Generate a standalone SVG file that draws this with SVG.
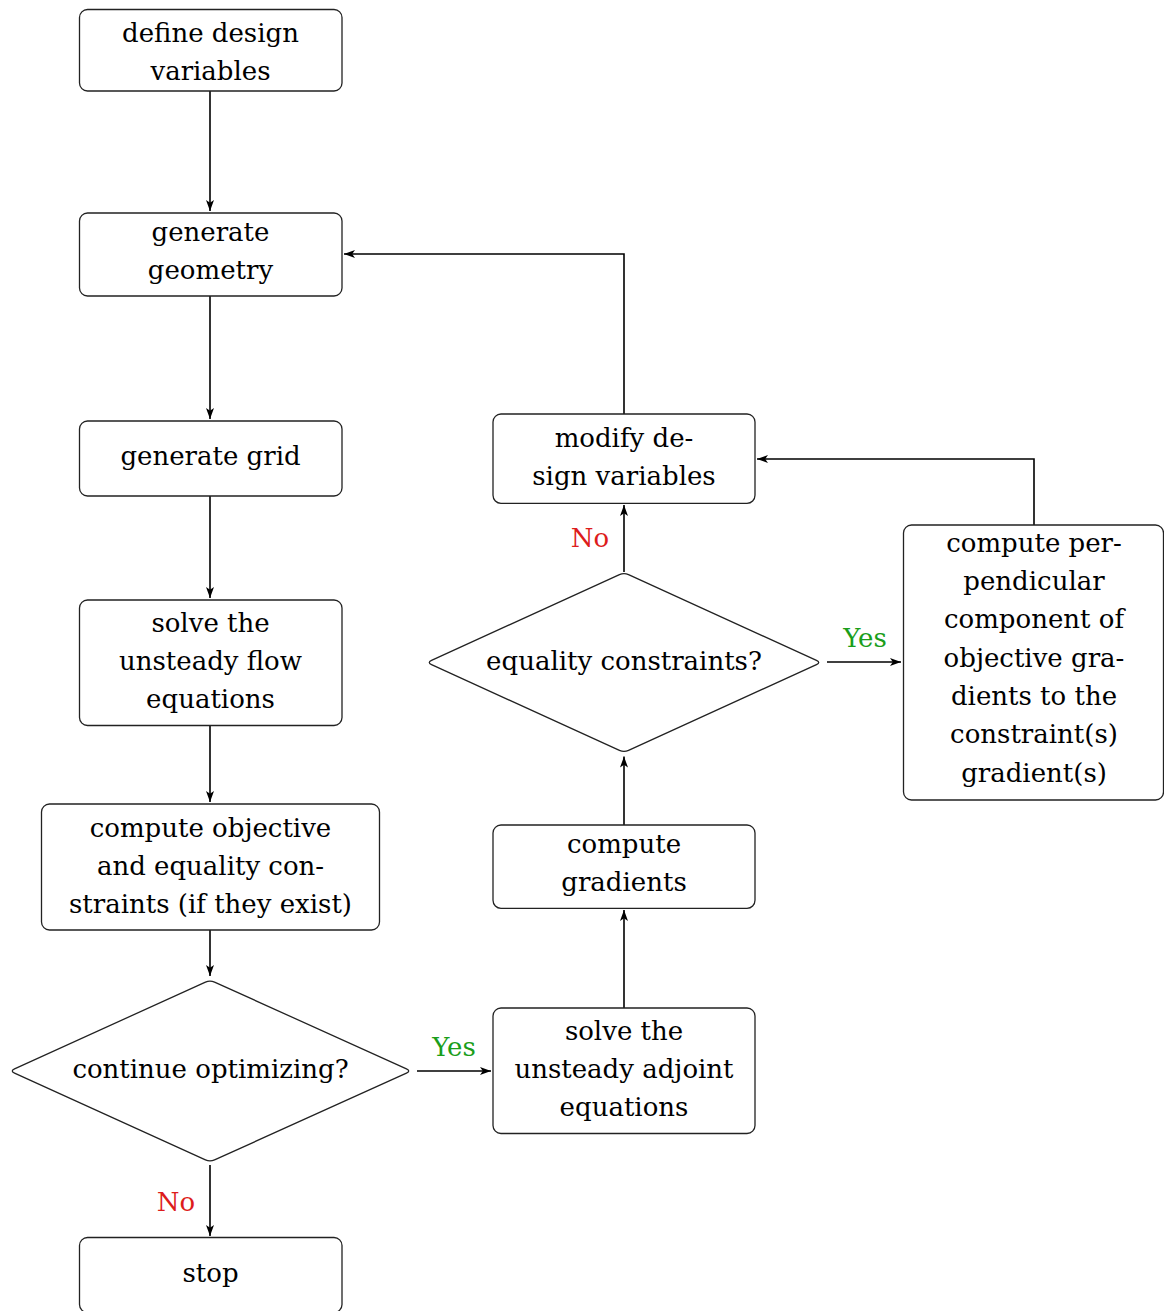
<svg xmlns="http://www.w3.org/2000/svg" width="1164" height="1311" viewBox="0 0 1164 1311">
<style>
.box{fill:#fff;stroke:#222;stroke-width:1.3}
.t{font-family:"DejaVu Serif","Liberation Serif",serif;font-size:26px;fill:#000;text-anchor:middle}
.yes{fill:#1a9e1a}
.no{fill:#dd1c1c}
.c{fill:none;stroke:#000;stroke-width:1.6;marker-end:url(#ah)}
</style>
<defs>
<marker id="ah" markerUnits="userSpaceOnUse" markerWidth="11" markerHeight="8" viewBox="0 0 11 8" refX="11" refY="4" orient="auto">
<path d="M0,0 L11,4 L0,8 L2.8,4 Z" fill="#000"/>
</marker>
</defs>
<rect width="1164" height="1311" fill="#fff"/>
<g id="connectors">
<path class="c" d="M210 91 V211"/>
<path class="c" d="M210 296 V419"/>
<path class="c" d="M210 496 V598"/>
<path class="c" d="M210 726 V802"/>
<path class="c" d="M210 930 V976"/>
<path class="c" d="M210 1165 V1236"/>
<path class="c" d="M417 1071 H491"/>
<path class="c" d="M624 1008 V910"/>
<path class="c" d="M624 825 V756.5"/>
<path class="c" d="M624 572 V505"/>
<path class="c" d="M827 662 H901"/>
<path class="c" d="M1034 525 V459 H757"/>
<path class="c" d="M624 414 V254 H344"/>
<text class="t yes" x="454" y="1056">Yes</text>
<text class="t no" x="176" y="1210.7">No</text>
<text class="t no" x="590" y="546.7">No</text>
<text class="t yes" x="865" y="646.7">Yes</text>
</g>
<g id="n1">
<rect class="box" x="79.5" y="9.5" width="262.5" height="81.5" rx="8"/>
<text class="t" x="210.5" y="41.7">define design</text>
<text class="t" x="210.5" y="80">variables</text>
</g>
<g id="n2">
<rect class="box" x="79.5" y="213" width="262.5" height="83" rx="8"/>
<text class="t" x="210.5" y="240.7">generate</text>
<text class="t" x="210.5" y="278.5">geometry</text>
</g>
<g id="n3">
<rect class="box" x="79.5" y="421" width="262.5" height="75" rx="8"/>
<text class="t" x="210.5" y="465">generate grid</text>
</g>
<g id="n4">
<rect class="box" x="79.5" y="600" width="262.5" height="125.5" rx="8"/>
<text class="t" x="210.5" y="631.7">solve the</text>
<text class="t" x="210.5" y="670">unsteady flow</text>
<text class="t" x="210.5" y="707.7">equations</text>
</g>
<g id="n5">
<rect class="box" x="41.5" y="804" width="338" height="126" rx="8"/>
<text class="t" x="210.5" y="836.7">compute objective</text>
<text class="t" x="210.5" y="875">and equality con-</text>
<text class="t" x="210.5" y="913.3">straints (if they exist)</text>
</g>
<g id="d1">
<path class="box" d="M14.55 1068.93 L205.45 982.07 Q210 980 214.55 982.07 L406.45 1068.93 Q411 1071 406.45 1073.07 L214.55 1159.93 Q210 1162 205.45 1159.93 L14.55 1073.07 Q10 1071 14.55 1068.93 Z"/>
<text class="t" x="210.5" y="1078.3">continue optimizing?</text>
</g>
<g id="stop">
<rect class="box" x="79.5" y="1237.5" width="262.5" height="75" rx="8"/>
<text class="t" x="210.5" y="1281.7">stop</text>
</g>
<g id="adj">
<rect class="box" x="493" y="1008" width="262" height="125.5" rx="8"/>
<text class="t" x="624" y="1040">solve the</text>
<text class="t" x="624" y="1078.3">unsteady adjoint</text>
<text class="t" x="624" y="1116">equations</text>
</g>
<g id="grad">
<rect class="box" x="493" y="825" width="262" height="83.3" rx="8"/>
<text class="t" x="624" y="853.3">compute</text>
<text class="t" x="624" y="891">gradients</text>
</g>
<g id="d2">
<path class="box" d="M431.55 660.42 L619.45 574.58 Q624 572.5 628.55 574.58 L816.45 660.42 Q821 662.5 816.45 664.58 L628.55 750.42 Q624 752.5 619.45 750.42 L431.55 664.58 Q427 662.5 431.55 660.42 Z"/>
<text class="t" x="624" y="670">equality constraints?</text>
</g>
<g id="mod">
<rect class="box" x="493" y="414" width="262" height="89.3" rx="8"/>
<text class="t" x="624" y="446.7">modify de-</text>
<text class="t" x="624" y="485">sign variables</text>
</g>
<g id="perp">
<rect class="box" x="903.5" y="525" width="260" height="275" rx="8"/>
<text class="t" x="1034" y="551.7">compute per-</text>
<text class="t" x="1034" y="590">pendicular</text>
<text class="t" x="1034" y="628">component of</text>
<text class="t" x="1034" y="666.7">objective gra-</text>
<text class="t" x="1034" y="705">dients to the</text>
<text class="t" x="1034" y="743">constraint(s)</text>
<text class="t" x="1034" y="781.7">gradient(s)</text>
</g>
</svg>
